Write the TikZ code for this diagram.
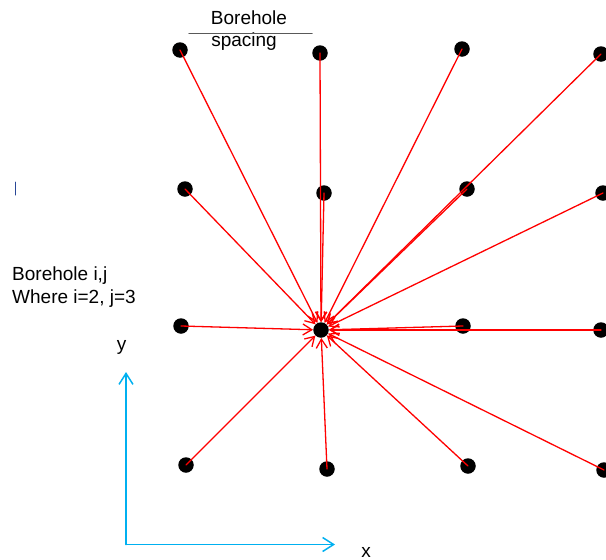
\documentclass[tikz,border=0pt]{standalone}
\usepackage{fontspec}
\setmainfont{Liberation Sans}
\usetikzlibrary{arrows.meta}
\definecolor{axisblue}{RGB}{0,176,240}
\definecolor{markblue}{RGB}{40,70,150}

\begin{document}
\begin{tikzpicture}[
  x=1pt,
  y=-1pt,
  line cap=round,
  line join=round,
  every node/.style={font=\fontsize{19}{23}\selectfont},
  dot/.style={circle, fill=black, inner sep=0pt, minimum size=15.5pt},
  flow/.style={-{Straight Barb[length=9pt,width=11pt]}, red, line width=1.3pt},
  axis/.style={-{Straight Barb[length=11pt,width=14pt]}, axisblue, line width=1.5pt}
]
  \useasboundingbox (0,0) rectangle (606,560);

  % Boreholes bh-i-j: column i, row j counted from the top
  \node[dot] (bh-1-1) at (180,50)  {};
  \node[dot] (bh-2-1) at (320,53)  {};
  \node[dot] (bh-3-1) at (462,49)  {};
  \node[dot] (bh-4-1) at (601,54)  {};

  \node[dot] (bh-1-2) at (185,189) {};
  \node[dot] (bh-2-2) at (324,193) {};
  \node[dot] (bh-3-2) at (467,189) {};
  \node[dot] (bh-4-2) at (603,193) {};

  \node[dot] (bh-1-3) at (181,326) {};
  \node[dot] (bh-2-3) at (321,330) {};
  \node[dot] (bh-3-3) at (463,326) {};
  \node[dot] (bh-4-3) at (601,330) {};

  \node[dot] (bh-1-4) at (186,465) {};
  \node[dot] (bh-2-4) at (327,469) {};
  \node[dot] (bh-3-4) at (468,466) {};
  \node[dot] (bh-4-4) at (604,470) {};

  % Every other borehole points at borehole 2,3
  \foreach \b in {1-1,2-1,3-1,4-1,1-2,2-2,3-2,4-2,1-3,3-3,4-3,1-4,2-4,3-4,4-4}
    \draw[flow] (bh-\b.center) -- (bh-2-3);

  % Spacing label
  \node[anchor=base] (bore) at (249,24) {Borehole};
  \node[anchor=base] (spac) at (244,46.5) {spacing};
  \draw[gray!70!black, line width=1.5pt] (189,33.5) -- (312,33.5);

  % Borehole note
  \draw[markblue, line width=1pt] (15,182) -- (15,195);
  \node[anchor=base west, inner sep=0pt] (note1) at (12,280) {Borehole i,j};
  \node[anchor=base west, inner sep=0pt] (note2) at (12,303) {Where i=2, j=3};

  % Axes
  \coordinate (o) at (126,544.5);
  \coordinate (ytip) at (126,372);
  \coordinate (xtip) at (335,544.5);
  \draw[axis] (o) -- (ytip);
  \draw[axis] (o) -- (xtip);
  \node[anchor=base] (ylab) at (121.5,350) {y};
  \node[anchor=base] (xlab) at (366,557) {x};
\end{tikzpicture}
\end{document}
